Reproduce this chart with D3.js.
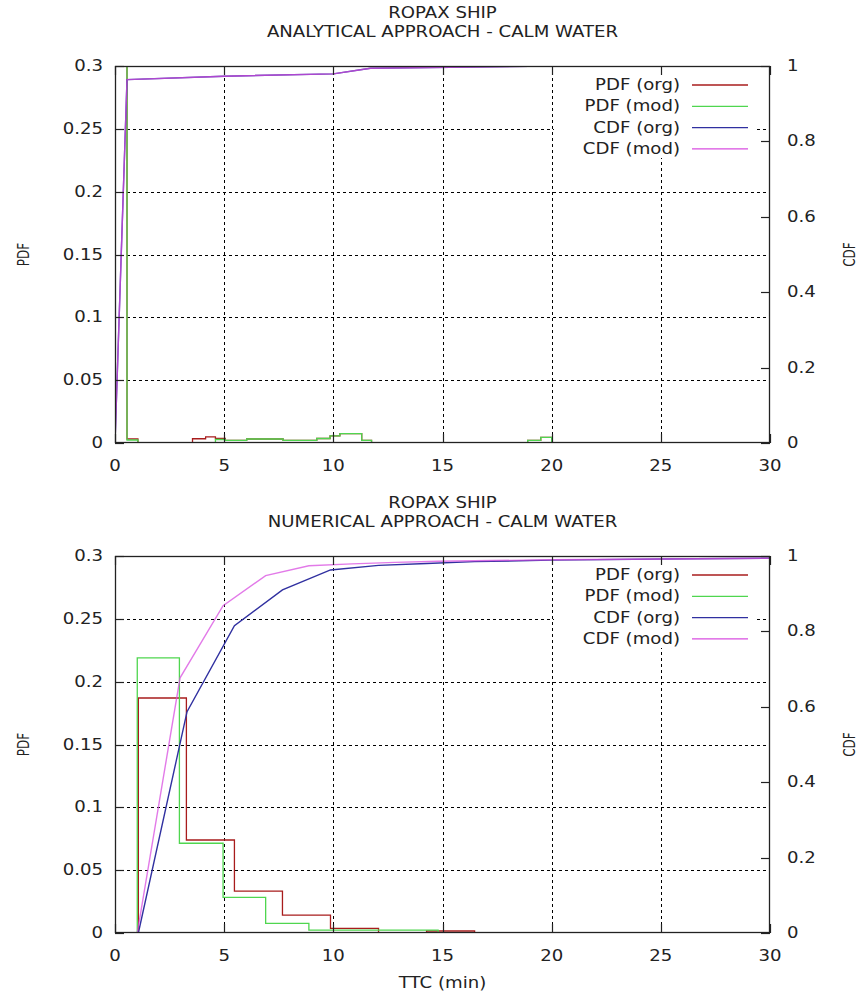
<!DOCTYPE html>
<html>
<head>
<meta charset="utf-8">
<script src="https://cdn.jsdelivr.net/npm/d3@7"></script>
<style>
  html, body { margin: 0; padding: 0; background: #fff; }
  svg { display: block; font-family: "DejaVu Sans", sans-serif; }
</style>
</head>
<body>
<svg id="chart" width="868" height="994"></svg>
<script>
// ---- axis ticks ----
const xTicks = [0, 5, 10, 15, 20, 25, 30];
const pdfTicks = [0, 0.05, 0.1, 0.15, 0.2, 0.25, 0.3];
const cdfTicks = [0, 0.2, 0.4, 0.6, 0.8, 1];
const seriesNames = ["PDF (org)", "PDF (mod)", "CDF (org)", "CDF (mod)"];
const seriesColors = ["#a81c1c", "#4fd64f", "#3030a0", "#d84ee0"];

// ---- analytical approach: histogram bin edges and heights ----
const anaPdfOrgEdges = [0, 0.55, 1.05, 3.55, 4.15, 4.6, 5.05, 6.03, 7.7, 9.24, 9.85, 10.3, 11.3, 11.75, 18.9, 19.5, 20];
const anaPdfOrgVals  = [1.93, 0.0032, 0, 0.0034, 0.0048, 0.0036, 0.0021, 0.0032, 0.0021, 0.0036, 0.0056, 0.0074, 0.0021, 0, 0.0021, 0.0045];
const anaPdfModEdges = [0, 0.55, 1.05, 4.6, 5.05, 6.03, 7.7, 9.24, 9.85, 10.3, 11.3, 11.75, 18.9, 19.5, 20];
const anaPdfModVals  = [1.93, 0.0024, 0, 0.0028, 0.0021, 0.0032, 0.0021, 0.0036, 0.0056, 0.0074, 0.0021, 0, 0.0021, 0.0045];
const anaCdfOrgX = [0, 0.55, 5, 10, 11.7, 20];
const anaCdfOrgY = [0, 0.964, 0.973, 0.979, 0.994, 1.0];
const anaCdfModX = [0, 0.55, 5, 10, 11.7, 20];
const anaCdfModY = [0, 0.964, 0.973, 0.979, 0.994, 1.0];

// ---- numerical approach ----
const numPdfOrgEdges = [1.07, 3.27, 5.47, 7.67, 9.87, 12.07, 14.27, 16.47, 30];
const numPdfOrgVals  = [0.187, 0.074, 0.0333, 0.0143, 0.0037, 0, 0.0016, 0];
const numPdfModEdges = [1.02, 2.95, 4.95, 6.9, 8.88, 10.85, 12.83, 14.8, 30];
const numPdfModVals  = [0.219, 0.0714, 0.0284, 0.0077, 0.0023, 0.0023, 0.0023, 0];
const numCdfOrgX = [1.07, 3.3, 5.47, 7.67, 9.87, 12.07, 14.27, 16.47, 20, 25, 30];
const numCdfOrgY = [0, 0.587, 0.815, 0.91, 0.963, 0.975, 0.98, 0.985, 0.989, 0.992, 0.994];
const numCdfModX = [1.02, 2.98, 4.95, 6.9, 8.88, 10.85, 12.83, 14.8, 20, 25, 30];
const numCdfModY = [0, 0.677, 0.868, 0.948, 0.974, 0.979, 0.983, 0.986, 0.99, 0.992, 0.994];

const svg = d3.select("#chart");
const L = 115, R = 770, PH = 377;
const FS = 15, SX = 1.21, INK = "#222";

// horizontal text, widened to the plot's wide sans look
function label(g, x, y, str, anchor) {
  return g.append("text")
    .attr("transform", `translate(${x},${y}) scale(${SX},1)`)
    .attr("text-anchor", anchor).attr("font-size", FS).attr("fill", INK).text(str);
}
// vertical axis title
function vlabel(g, x, y, str) {
  return g.append("text")
    .attr("transform", `translate(${x},${y}) rotate(-90) scale(1,1.35)`)
    .attr("text-anchor", "middle").attr("font-size", 12).attr("fill", INK).text(str);
}

function stepPoints(edges, vals) {
  const pts = [[edges[0], 0]];
  vals.forEach((v, i) => pts.push([edges[i], v]));
  pts.push([edges[edges.length - 1], vals[vals.length - 1]]);
  pts.push([edges[edges.length - 1], 0]);
  return pts;
}

function panel(top, titleLines, pdfSets, cdfSets, id, showXLabel) {
  const x = d3.scaleLinear().domain([0, 30]).range([L, R]);
  const y = d3.scaleLinear().domain([0, 0.3]).range([top + PH, top]);
  const y2 = d3.scaleLinear().domain([0, 1]).range([top + PH, top]);
  const g = svg.append("g");

  // title
  titleLines.forEach((t, i) => label(g, (L + R) / 2, top - 48 + i * 19, t, "middle"));

  // grid
  const grid = g.append("g").attr("stroke", "#000").attr("stroke-width", 1).attr("stroke-dasharray", "3,3");
  xTicks.slice(1, -1).forEach(v => grid.append("line")
    .attr("x1", Math.round(x(v)) + 0.5).attr("x2", Math.round(x(v)) + 0.5)
    .attr("y1", top).attr("y2", top + PH));
  pdfTicks.slice(1, -1).forEach(v => grid.append("line")
    .attr("x1", L).attr("x2", R)
    .attr("y1", Math.round(y(v)) + 0.5).attr("y2", Math.round(y(v)) + 0.5));

  // data
  g.append("clipPath").attr("id", id).append("rect")
    .attr("x", L).attr("y", top).attr("width", R - L).attr("height", PH);
  const data = g.append("g").attr("clip-path", `url(#${id})`).attr("fill", "none").attr("stroke-width", 1.3);
  const stepLine = d3.line().curve(d3.curveStepAfter).x(d => x(d[0])).y(d => y(d[1]));
  pdfSets.forEach((s, i) => data.append("path")
    .attr("d", stepLine(stepPoints(s[0], s[1]))).attr("stroke", seriesColors[i]));
  const cdfLine = d3.line().x(d => x(d[0])).y(d => y2(d[1]));
  cdfSets.forEach((s, i) => data.append("path")
    .attr("d", cdfLine(s[0].map((v, k) => [v, s[1][k]])))
    .attr("stroke", seriesColors[2 + i])
    .attr("stroke-width", 1.4)
    .attr("stroke-opacity", i === 1 ? 0.75 : 1));

  // key
  g.append("rect").attr("x", 554).attr("y", top + 8).attr("width", 203).attr("height", 84).attr("fill", "#fff");
  seriesNames.forEach((n, i) => {
    const ry = top + 19 + i * 21.3;
    label(g, 680, ry + 5, n, "end");
    g.append("line").attr("x1", 692).attr("x2", 748).attr("y1", ry).attr("y2", ry)
      .attr("stroke", seriesColors[i]).attr("stroke-width", 1.3);
  });

  // border
  g.append("rect").attr("x", L + 0.5).attr("y", top + 0.5).attr("width", R - L - 1).attr("height", PH - 1)
    .attr("fill", "none").attr("stroke", INK).attr("stroke-width", 1.3);

  // ticks (inward) and labels
  const tk = g.append("g").attr("stroke", INK).attr("stroke-width", 1.2);
  const TL = 9;
  xTicks.forEach(v => {
    const px = Math.round(x(v)) + 0.5;
    tk.append("line").attr("x1", px).attr("x2", px).attr("y1", top + PH).attr("y2", top + PH - TL);
    tk.append("line").attr("x1", px).attr("x2", px).attr("y1", top).attr("y2", top + TL);
    label(g, x(v), top + PH + 28, String(v), "middle");
  });
  pdfTicks.forEach(v => {
    const py = Math.round(y(v)) + 0.5;
    tk.append("line").attr("x1", L).attr("x2", L + TL).attr("y1", py).attr("y2", py);
    label(g, 103, y(v) + 5, String(v), "end");
  });
  cdfTicks.forEach(v => {
    const py = Math.round(y2(v)) + 0.5;
    tk.append("line").attr("x1", R).attr("x2", R - TL).attr("y1", py).attr("y2", py);
    label(g, 787, y2(v) + 5, String(v), "start");
  });

  // axis titles
  vlabel(g, 28.5, top + PH / 2, "PDF");
  vlabel(g, 855, top + PH / 2, "CDF");
  if (showXLabel) label(g, (L + R) / 2, top + PH + 55, "TTC (min)", "middle");
}

panel(66, ["ROPAX SHIP", "ANALYTICAL APPROACH - CALM WATER"],
  [[anaPdfOrgEdges, anaPdfOrgVals], [anaPdfModEdges, anaPdfModVals]],
  [[anaCdfOrgX, anaCdfOrgY], [anaCdfModX, anaCdfModY]], "clipA", false);
panel(556, ["ROPAX SHIP", "NUMERICAL APPROACH - CALM WATER"],
  [[numPdfOrgEdges, numPdfOrgVals], [numPdfModEdges, numPdfModVals]],
  [[numCdfOrgX, numCdfOrgY], [numCdfModX, numCdfModY]], "clipN", true);
</script>
</body>
</html>
